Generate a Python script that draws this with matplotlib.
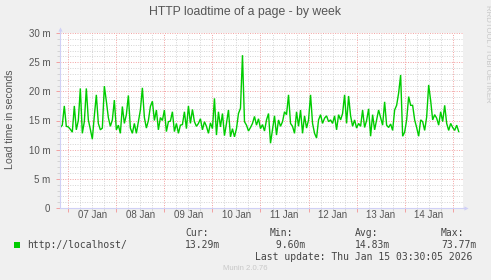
import numpy as np
import matplotlib
matplotlib.use("Agg")
import matplotlib.pyplot as plt
from matplotlib.patches import Rectangle

# ---- data (load time in milliseconds, hourly samples starting Jan 6 20:00) ----
load_ms = [
    13.8, 14.2, 17.5, 14.0, 13.9, 13.5, 13.0, 17.5, 13.4, 15.0,
    20.5, 12.8, 14.8, 20.5, 15.1, 13.5, 11.8, 15.8, 19.4, 14.5,
    13.4, 13.7, 20.9, 18.3, 15.5, 14.0, 15.1, 18.5, 13.4, 14.2,
    12.8, 17.4, 14.5, 16.0, 19.3, 13.7, 12.8, 14.5, 12.8, 14.8,
    16.8, 20.6, 15.5, 13.7, 15.0, 17.4, 18.3, 15.0, 16.8, 13.4,
    15.5, 15.0, 16.8, 13.1, 14.8, 14.9, 16.5, 13.1, 14.5, 12.8,
    14.2, 14.3, 16.5, 13.6, 17.5, 14.5, 16.9, 14.8, 14.0, 14.5,
    15.3, 13.4, 14.8, 14.0, 12.8, 14.6, 13.6, 18.8, 12.5, 16.5,
    13.9, 16.2, 12.4, 14.5, 16.8, 12.2, 13.6, 12.2, 13.6, 16.2,
    17.1, 26.2, 14.8, 14.2, 13.2, 13.8, 14.5, 15.7, 14.2, 15.3,
    13.6, 14.3, 13.2, 15.1, 16.2, 11.1, 13.4, 15.8, 12.5, 15.1,
    14.0, 14.8, 16.5, 16.0, 19.4, 14.5, 14.0, 12.8, 16.5, 14.0,
    16.8, 12.8, 15.8, 13.7, 15.1, 19.4, 14.5, 12.8, 12.0, 15.1,
    16.0, 14.5, 15.4, 15.8, 14.8, 15.1, 14.5, 15.8, 13.4, 16.0,
    15.1, 16.2, 19.4, 14.5, 19.2, 15.8, 14.0, 15.1, 13.7, 14.5,
    14.0, 16.8, 13.8, 15.0, 17.0, 12.3, 16.0, 13.4, 15.1, 16.8,
    15.5, 14.2, 18.2, 14.2, 13.8, 14.4, 13.3, 16.8, 17.6, 19.7,
    22.8, 12.3, 13.0, 15.1, 19.1, 17.6, 17.6, 15.1, 13.8, 12.3,
    15.1, 14.8, 13.3, 15.6, 21.1, 18.4, 15.1, 16.0, 15.4, 14.2,
    16.5, 14.8, 17.6, 14.5, 13.3, 14.5, 13.8, 13.3, 14.2, 13.1,
]
hours_from_jan7 = np.arange(len(load_ms)) - 4  # hours relative to Jan 7 00:00

day_labels = ["07 Jan", "08 Jan", "09 Jan", "10 Jan", "11 Jan", "12 Jan", "13 Jan", "14 Jan"]
y_ticks = [0, 5, 10, 15, 20, 25, 30]
y_tick_labels = ["0", "5 m", "10 m", "15 m", "20 m", "25 m", "30 m"]

series_name = "http://localhost/"
stat_names = ["Cur:", "Min:", "Avg:", "Max:"]
stat_values = ["13.29m", " 9.60m", "14.83m", "73.77m"]
last_update = "Last update: Thu Jan 15 03:30:05 2026"
title = "HTTP loadtime of a page - by week"
ylabel = "Load time in seconds"

# ---- figure ----
W, H = 491, 280
fig = plt.figure(figsize=(W / 100, H / 100), dpi=100, facecolor="#F0F0F0")

def fx(x):
    return x / W

def fy(y):
    return 1 - y / H

ax = fig.add_axes([fx(60), fy(208), (462.5 - 60) / W, (208 - 33) / H])
ax.set_facecolor("white")

ax.plot(hours_from_jan7, load_ms, color="#00CC00", lw=1.0, solid_joinstyle="miter", zorder=3)

ax.set_xlim(-4.15, 196.9)
ax.set_ylim(0, 30)

# grid
major_col = "#F2A0A0"
minor_col = "#D4D4D4"
ax.set_xticks(np.arange(0, 193, 24))
ax.set_xticks(np.arange(-0, 197, 6), minor=True)
ax.set_yticks(y_ticks)
ax.set_yticks(np.arange(0, 31, 1), minor=True)
ax.set_axisbelow(True)
ax.grid(which="minor", color=minor_col, linestyle=(0, (1, 1.5)), lw=0.7)
ax.grid(which="major", color=major_col, linestyle=(0, (1, 1.5)), lw=0.7)

ax.set_xticklabels([])
ax.set_yticklabels(y_tick_labels)
ax.tick_params(axis="y", which="major", length=3, width=0.7, color=major_col,
               labelsize=7, labelcolor="#555555", pad=4)
ax.tick_params(axis="y", which="minor", length=2, width=0.7, color=minor_col)
ax.tick_params(axis="x", which="major", length=3, width=0.7, color=major_col)
ax.tick_params(axis="x", which="minor", length=2, width=0.7, color=minor_col)
for lab in ax.get_yticklabels():
    lab.set_family(["Liberation Sans", "DejaVu Sans"])

for s in ["top", "right"]:
    ax.spines[s].set_visible(False)
axis_col = "#D0D0F6"
ax.spines["left"].set_color(axis_col)
ax.spines["bottom"].set_color(axis_col)
ax.spines["left"].set_linewidth(0.8)
ax.spines["bottom"].set_linewidth(0.8)
ax.spines["left"].set_zorder(4)
ax.spines["bottom"].set_zorder(4)

# axis arrows
ax.plot([0, 0], [1.0, 1.02], color=axis_col, lw=0.8, transform=ax.transAxes, clip_on=False)
ax.plot([0], [1.025], marker="^", ms=3, color=axis_col, mec=axis_col, mew=0,
        transform=ax.transAxes, clip_on=False)
ax.plot([1.0, 1.005], [0, 0], color=axis_col, lw=0.8, transform=ax.transAxes, clip_on=False)
ax.plot([1.008], [0], marker=">", ms=3, color=axis_col, mec=axis_col, mew=0,
        transform=ax.transAxes, clip_on=False)

# day labels at noon
for k, lab in enumerate(day_labels):
    ax.text(12 + 24 * k, -0.042, lab, transform=ax.get_xaxis_transform(),
            ha="center", va="center", fontsize=7, color="#555555",
            family=["Liberation Sans", "DejaVu Sans"])

# titles
fig.text(fx(245), fy(12), title, ha="center", va="center", fontsize=8.8,
         color="#555555", family=["Liberation Sans", "DejaVu Sans"])
fig.text(fx(10), fy(119), ylabel, rotation=90, ha="center", va="center",
         fontsize=7.6, color="#555555", family=["Liberation Sans", "DejaVu Sans"])
fig.text(fx(487), fy(54), "RRDTOOL / TOBI OETIKER", rotation=270, ha="center",
         va="center", fontsize=5.6, color="#C8C8C8",
         family=["Liberation Sans", "DejaVu Sans"])

# legend
fig.add_artist(Rectangle((fx(13.5), fy(248)), 6 / W, 6 / H, transform=fig.transFigure,
                         color="#00CC00", lw=0))
mono = dict(family="DejaVu Sans Mono", fontsize=7, color="#444444", va="center", ha="left")
fig.text(fx(27), fy(244.5), series_name, **mono)
stat_x = [185, 270, 355, 441]
for xx, nm, val in zip(stat_x, stat_names, stat_values):
    fig.text(fx(xx), fy(232.5), nm, **mono)
    fig.text(fx(xx), fy(245), val, **mono)
fig.text(fx(255), fy(257), last_update, **mono)
fig.text(fx(245), fy(268), "Munin 2.0.76", ha="center", va="center", fontsize=5.6,
         color="#C8C8C8", family=["Liberation Sans", "DejaVu Sans"])

fig.savefig("out.png", dpi=100, facecolor=fig.get_facecolor())
